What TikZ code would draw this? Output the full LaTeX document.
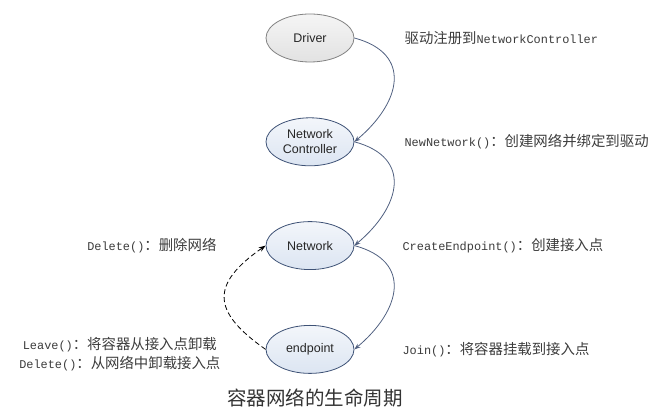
\documentclass[tikz,border=0pt]{standalone}
\usepackage{fontspec}
\setmainfont{Liberation Sans}
\setmonofont{Liberation Mono}
\newfontfamily\cjk{Noto Sans CJK SC}
\usetikzlibrary{shapes.geometric, arrows.meta, positioning}
\definecolor{nodeline}{RGB}{62,82,118}
\definecolor{nodefill}{RGB}{220,229,242}
\definecolor{drvline}{RGB}{130,130,130}
\definecolor{drvfill}{RGB}{226,226,226}
\definecolor{flowline}{RGB}{80,96,128}
\definecolor{notegray}{RGB}{60,60,60}
\newcommand{\zh}[1]{{\cjk\fontsize{14.4}{17}\selectfont #1}}
\tikzset{
    state/.style={ellipse, draw=nodeline, line width=0.8pt, top color=nodefill!35, bottom color=nodefill, minimum width=88pt, minimum height=48pt, inner sep=0pt, align=center, font=\fontsize{12.5}{15}\selectfont, text=black!85},
    driverstate/.style={state, draw=drvline, top color=drvfill!35, bottom color=drvfill},
    flow/.style={draw=flowline, line width=0.8pt, -{Stealth[length=6pt, width=4.5pt]}, looseness=1.5},
    backflow/.style={draw=black, line width=0.8pt, dash pattern=on 5pt off 3pt, -{Stealth[length=7pt, width=5pt]}, looseness=1.65},
    note/.style={inner sep=0pt, text=notegray, align=center, font=\ttfamily\fontsize{11.9}{19}\selectfont},
    caption/.style={inner sep=0pt, text=black!80, font=\cjk\fontsize{19.5}{22}\selectfont}
}

\begin{document}
\begin{tikzpicture}[x=1pt, y=1pt, node distance=55pt]
    \useasboundingbox (0,0) rectangle (665,411);

    % lifecycle states
    \node[driverstate] (driver) at (310,373) {Driver};
    \node[state, below=of driver] (ctrl) {Network\\Controller};
    \node[state, below=of ctrl] (network) {Network};
    \node[state, below=of network] (endpoint) {endpoint};

    % notes
    \node[note, right=50pt of driver] (regnote) {\zh{驱动注册到}NetworkController};
    \node[note, right=50pt of ctrl] (newnote) {NewNetwork()\zh{：创建网络并绑定到驱动}};
    \node[note, right=48pt of network] (createnote) {CreateEndpoint()\zh{：创建接入点}};
    \node[note, right=48pt of endpoint] (joinnote) {Join()\zh{：将容器挂载到接入点}};
    \node[note, left=49pt of network] (delnote) {Delete()\zh{：删除网络}};
    \node[note, left=45pt of endpoint, yshift=-4.5pt] (leavenote) {Leave()\zh{：将容器从接入点卸载}\\Delete()\zh{：从网络中卸载接入点}};

    \node[caption] (title) at (315,13) {容器网络的生命周期};

    % transitions
    \path[flow] (driver.east) to[out=-15, in=40] (ctrl.east);
    \path[flow] (ctrl.east) to[out=-15, in=40] (network.east);
    \path[flow] (network.east) to[out=-15, in=40] (endpoint.east);
    \path[backflow] (endpoint.west) to[out=145, in=215] (network.west);
\end{tikzpicture}
\end{document}
